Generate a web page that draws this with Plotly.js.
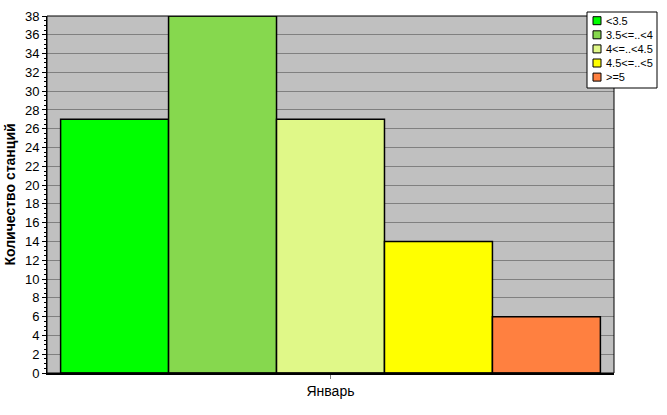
<!DOCTYPE html>
<html>
<head>
<meta charset="utf-8">
<script src="https://cdn.plot.ly/plotly-3.0.1.min.js"></script>
<style>html,body{margin:0;padding:0;background:#fff;}#chart{width:667px;height:415px;}</style>
</head>
<body>
<div id="chart"></div>
<script>
var category = ["Январь"];
var seriesNames = ["<3.5", "3.5<=..<4", "4<=..<4.5", "4.5<=..<5", ">=5"];
var seriesValues = [27, 38, 27, 14, 6];
var seriesColors = ["#00ff00", "#86d84e", "#e0f888", "#ffff00", "#ff8040"];
var yTitle = "Количество станций";

var traces = seriesNames.map(function(name, i) {
  return {
    type: "bar",
    name: name,
    x: category,
    y: [seriesValues[i]],
    marker: {color: seriesColors[i], line: {color: "#000000", width: 1.5}},
    hoverinfo: "skip",
    showlegend: false
  };
});

// plot area geometry (pixels) for the hand-built legend box
var L = 47, R = 614, T = 16, B = 373;
function px(x) { return (x - L) / (R - L); }
function py(y) { return (B - y) / (B - T); }

var shapes = [{type: "rect", xref: "paper", yref: "paper", x0: 0, x1: 1, y0: 0, y1: 1,
               line: {color: "#000000", width: 1}, fillcolor: "rgba(0,0,0,0)", layer: "above"},
              {type: "rect", xref: "paper", yref: "paper", x0: px(587), x1: px(657), y0: py(88), y1: py(12),
               line: {color: "#000000", width: 1}, fillcolor: "#ffffff", layer: "above"}];
var annotations = [];
seriesNames.forEach(function(name, i) {
  var cy = 20.7 + i * 14.1;
  shapes.push({type: "rect", xref: "paper", yref: "paper",
               x0: px(593), x1: px(601), y0: py(cy + 4), y1: py(cy - 4),
               line: {color: "#000000", width: 1}, fillcolor: seriesColors[i], layer: "above"});
  annotations.push({xref: "paper", yref: "paper", x: px(604), y: py(cy), xanchor: "left", yanchor: "middle",
                    text: name.replace(/</g, "&lt;"), showarrow: false, font: {size: 11, color: "#000000"}});
});

var layout = {
  width: 667, height: 415,
  margin: {l: L, r: 667 - R, t: T, b: 415 - B, pad: 0, autoexpand: false},
  paper_bgcolor: "#ffffff",
  plot_bgcolor: "#c0c0c0",
  barmode: "group",
  bargap: 0.048,
  bargroupgap: 0,
  showlegend: false,
  font: {family: "Liberation Sans, Arial, sans-serif", size: 12, color: "#000000"},
  xaxis: {
    type: "category",
    range: [-0.5, 0.5],
    showline: true, linecolor: "#000000", linewidth: 2,
    ticks: "outside", ticklen: 4, tickcolor: "#808080",
    tickfont: {size: 14},
    showgrid: false, zeroline: false
  },
  yaxis: {
    range: [0, 38], dtick: 2, tick0: 0,
    showline: true, linecolor: "#000000", linewidth: 1,
    ticks: "outside", ticklen: 4, tickcolor: "#000000",
    minor: {dtick: 0.5, ticks: "outside", ticklen: 2, tickcolor: "#000000", showgrid: false},
    showgrid: true, gridcolor: "#808080", gridwidth: 1,
    zeroline: false,
    tickfont: {size: 13},
    title: {text: yTitle, font: {size: 14, weight: "bold"}, standoff: 6}
  },
  shapes: shapes,
  annotations: annotations
};

Plotly.newPlot("chart", traces, layout, {displayModeBar: false, staticPlot: true});
</script>
</body>
</html>
